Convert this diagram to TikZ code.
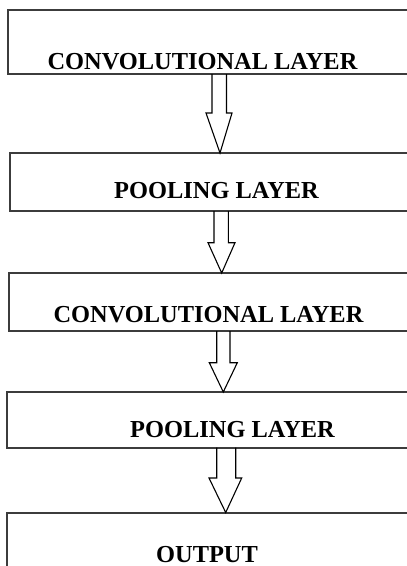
\documentclass[tikz,border=0pt]{standalone}
\usepackage{fontspec}
\setmainfont{Liberation Serif}
\definecolor{boxgray}{HTML}{3C3C3C}
\newcommand\blockarr[8]{%
  \draw[blockarrow] (#3,0 |- #1.south) -- (#3,#5) -- (#6,#5) -- (#8,0 |- #2.north)
    -- (#7,#5) -- (#4,#5) -- (#4,0 |- #1.south);}
\begin{document}
\begin{tikzpicture}[x=1pt,y=-1pt,
  box/.style={draw=boxgray, line width=2pt, rectangle, inner sep=0pt, outer sep=0pt, anchor=north west},
  lbl/.style={font=\bfseries\fontsize{24.4}{28}\selectfont, anchor=base, inner sep=0pt, text=black},
  blockarrow/.style={draw=black, line width=1.1pt, line join=miter}]
\useasboundingbox (0,0) rectangle (407,566);
\clip (0,0) rectangle (407,566);
\node[box, minimum width=412pt, minimum height=64pt] (b1) at (8,10) {};
\node[box, minimum width=410pt, minimum height=58pt] (b2) at (10,153) {};
\node[box, minimum width=411pt, minimum height=58pt] (b3) at (9,273) {};
\node[box, minimum width=413pt, minimum height=55.5pt] (b4) at (7,392) {};
\node[box, minimum width=413pt, minimum height=80pt] (b5) at (7,512.5) {};
\node[lbl] (t1) at (202.5,69) {CONVOLUTIONAL LAYER};
\node[lbl] (t2) at (216.5,198) {POOLING LAYER};
\node[lbl] (t3) at (208.5,322) {CONVOLUTIONAL LAYER};
\node[lbl] (t4) at (232.5,437) {POOLING LAYER};
\node[lbl] (t5) at (207,562) {OUTPUT};
\blockarr{b1}{b2}{212}{226.5}{113}{206}{232}{220}
\blockarr{b2}{b3}{214}{228.3}{242.7}{208}{235}{221.7}
\blockarr{b3}{b4}{216.7}{230}{362.7}{209.3}{237.3}{223.3}
\blockarr{b4}{b5}{216.7}{235.7}{478}{209}{241.7}{225.7}
\end{tikzpicture}
\end{document}
